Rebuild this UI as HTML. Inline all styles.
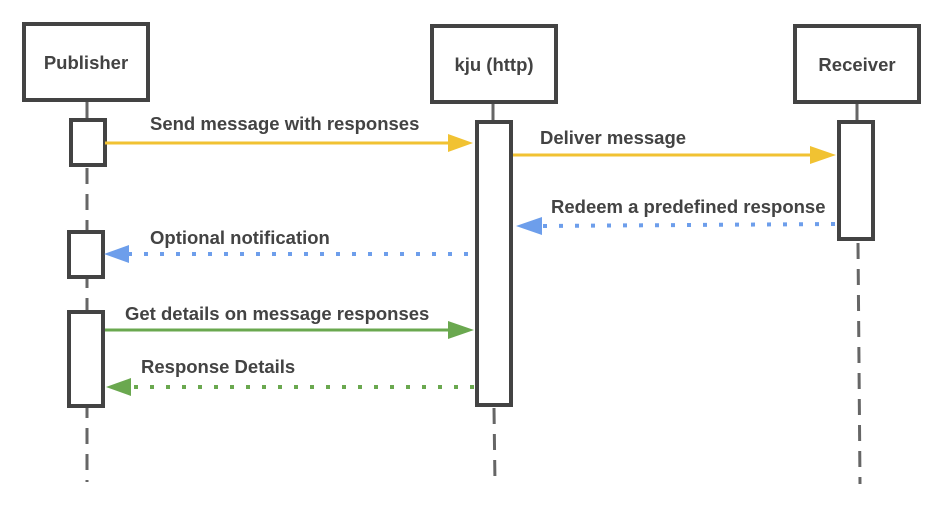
<!DOCTYPE html>
<html><head><style>body{margin:0;background:#fff}svg{display:block}text{font-family:"Liberation Sans",Arial,sans-serif;font-weight:bold;fill:#434343;font-size:18.5px}</style></head>
<body>
<svg width="946" height="529" viewBox="0 0 946 529">
<g stroke="#666" stroke-width="3" stroke-dasharray="16,10" fill="none">
<line x1="87" y1="168" x2="87" y2="482"/>
<line x1="494" y1="408" x2="495" y2="484"/>
<line x1="858" y1="243" x2="860" y2="484"/>
</g>
<g stroke="#666" stroke-width="3">
<line x1="87" y1="102" x2="87" y2="120"/>
<line x1="493" y1="104" x2="493" y2="122"/>
<line x1="857" y1="104" x2="857" y2="122"/>
</g>
<g fill="#fff" stroke="#434343" stroke-width="4">
<rect x="24" y="24" width="124" height="76"/>
<rect x="432" y="26" width="124" height="76"/>
<rect x="795" y="26" width="124" height="76"/>
<rect x="71" y="120" width="34" height="45"/>
<rect x="69" y="232" width="34" height="45"/>
<rect x="69" y="312" width="34" height="94"/>
<rect x="477" y="122" width="34" height="283"/>
<rect x="839" y="122" width="34" height="117"/>
</g>
<text x="86" y="69" text-anchor="middle">Publisher</text>
<text x="494" y="71" text-anchor="middle">kju (http)</text>
<text x="857" y="71" text-anchor="middle">Receiver</text>
<g stroke-width="3" fill="none">
<line x1="105" y1="143" x2="450" y2="143" stroke="#f1c232"/>
<line x1="513" y1="155" x2="812" y2="155" stroke="#f1c232"/>
<line x1="835" y1="224" x2="540" y2="226" stroke="#6d9eeb" stroke-width="4" stroke-dasharray="4,12"/>
<line x1="468" y1="254" x2="128" y2="254" stroke="#6d9eeb" stroke-width="4" stroke-dasharray="4,12"/>
<line x1="105" y1="330" x2="450" y2="330" stroke="#6aa84f"/>
<line x1="474" y1="387" x2="130" y2="387" stroke="#6aa84f" stroke-width="4" stroke-dasharray="4,12"/>
</g>
<polygon points="448,134 473,143 448,152" fill="#f1c232"/>
<polygon points="810,146 836,155 810,164" fill="#f1c232"/>
<polygon points="542,217 516,226 542,235" fill="#6d9eeb"/>
<polygon points="129,245 104,254 129,263" fill="#6d9eeb"/>
<polygon points="448,321 474,330 448,339" fill="#6aa84f"/>
<polygon points="131,378 106,387 131,396" fill="#6aa84f"/>
<text x="150" y="130">Send message with responses</text>
<text x="540" y="144">Deliver message</text>
<text x="551" y="213">Redeem a predefined response</text>
<text x="150" y="244">Optional notification</text>
<text x="125" y="320">Get details on message responses</text>
<text x="141" y="373">Response Details</text>
</svg>
</body></html>
